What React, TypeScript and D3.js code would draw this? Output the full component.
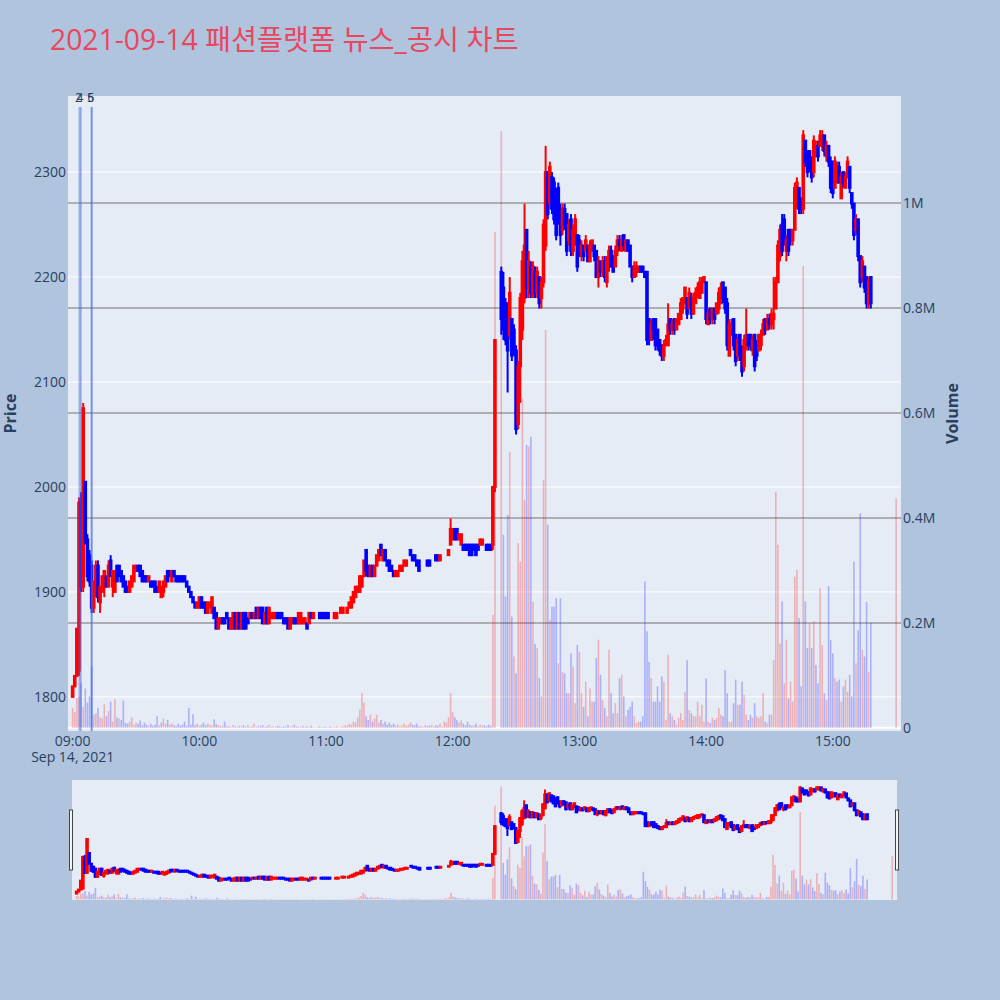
import React from "react";
import * as d3 from "d3";

const TITLE = "2021-09-14 패션플랫폼 뉴스_공시 차트";
const DATE_LABEL = "Sep 14, 2021";

// traded minutes after 09:00 (VI halt at 12:21-12:22, closing auction at 15:30)
const tradedMinuteRanges: [number, number][] = [[0, 200], [203, 378], [390, 390]];

const opens = [
  1800,1810,1820,1825,1985,1905,2005,1950,1935,1925,
  1885,1900,1925,1890,1900,1905,1915,1905,1930,1905,
  1900,1925,1925,1920,1915,1910,1905,1900,1905,1910,
  1920,1925,1925,1920,1915,1915,1910,1910,1910,1910,
  1905,1900,1895,1900,1905,1920,1920,1910,1920,1915,
  1915,1915,1915,1915,1910,1905,1900,1895,1890,1885,
  1885,1895,1890,1890,1880,1885,1880,1885,1880,1865,
  1870,1875,1875,1880,1875,1865,1865,1880,1865,1880,
  1865,1880,1880,1875,1875,1880,1875,1885,1875,1885,
  1885,1870,1885,1870,1875,1875,1875,1880,1880,1880,
  1875,1875,1875,1865,1870,1875,1875,1870,1870,1870,
  1870,1870,1870,1880,1875,1880,1880,1880,1880,1880,
  1880,1880,1875,1875,1875,1875,1880,1880,1880,1885,
  1880,1885,1885,1890,1895,1900,1900,1905,1915,1940,
  1925,1915,1925,1915,1925,1930,1945,1930,1940,1930,
  1930,1925,1920,1915,1915,1920,1920,1925,1925,1930,
  1940,1935,1935,1930,1930,1930,1930,1930,1930,1930,
  1930,1930,1935,1935,1930,1935,1935,1935,1935,1945,
  1950,1960,1960,1950,1945,1945,1945,1945,1945,1945,
  1945,1945,1945,1945,1945,1945,1945,1945,1945,1945,
  2000,
  2205,2190,2175,2175,2145,2160,2150,2130,2060,2115,
  2150,2180,2245,2190,2210,2185,2205,2185,2200,2180,
  2195,2230,2300,2270,2295,2290,2280,2285,2260,2245,
  2265,2260,2235,2255,2225,2240,2240,2235,2220,2230,
  2225,2230,2215,2225,2230,2225,2200,2215,2205,2215,
  2195,2210,2225,2220,2210,2225,2235,2225,2240,2225,
  2235,2230,2210,2200,2205,2205,2210,2210,2205,2205,
  2160,2140,2160,2160,2150,2140,2135,2125,2135,2135,
  2160,2150,2160,2150,2155,2160,2170,2175,2180,2170,
  2180,2165,2175,2185,2180,2185,2195,2195,2155,2170,
  2160,2170,2165,2170,2175,2195,2190,2175,2125,2145,
  2160,2145,2125,2145,2130,2115,2135,2145,2145,2130,
  2145,2135,2130,2135,2145,2160,2150,2160,2155,2160,
  2170,2195,2220,2250,2255,2225,2245,2245,2235,2245,
  2270,2285,2275,2265,2330,2320,2320,2310,2300,2315,
  2325,2325,2325,2335,2315,2325,2310,2310,2285,2290,
  2305,2275,2300,2285,2295,2305,2280,2270,2245,2255,
  2220,2200,2210,2200,2175,2200,
  2200,
];

const highs = [
  1810,1820,1865,1990,1995,2080,2005,1955,1940,1930,
  1910,1930,1930,1905,1915,1920,1915,1930,1935,1920,
  1920,1925,1925,1920,1915,1910,1905,1910,1915,1925,
  1925,1925,1925,1920,1915,1915,1915,1910,1910,1910,
  1905,1910,1905,1910,1915,1920,1920,1920,1920,1915,
  1915,1915,1915,1915,1910,1905,1900,1895,1890,1890,
  1895,1895,1890,1890,1890,1890,1895,1885,1880,1875,
  1875,1875,1875,1880,1875,1875,1880,1880,1880,1880,
  1880,1880,1880,1875,1880,1880,1880,1885,1885,1885,
  1885,1880,1885,1885,1880,1880,1880,1880,1880,1880,
  1875,1875,1875,1875,1875,1875,1875,1880,1880,1875,
  1875,1870,1880,1880,1880,1880,1880,1880,1880,1880,
  1880,1880,1875,1875,1880,1880,1880,1885,1885,1885,
  1885,1890,1895,1900,1905,1905,1915,1915,1930,1940,
  1925,1925,1925,1925,1935,1940,1945,1940,1940,1930,
  1930,1925,1920,1920,1920,1925,1925,1930,1930,1930,
  1940,1935,1935,1930,1930,1930,1930,1930,1930,1930,
  1930,1930,1935,1935,1935,1935,1935,1935,1940,1970,
  1960,1960,1960,1955,1955,1945,1945,1945,1945,1945,
  1945,1945,1945,1950,1950,1945,1945,1945,1945,2000,
  2140,
  2210,2205,2180,2175,2200,2160,2155,2135,2120,2185,
  2225,2270,2245,2225,2215,2215,2210,2210,2200,2200,
  2255,2325,2300,2310,2300,2295,2285,2290,2270,2270,
  2270,2260,2255,2260,2250,2260,2240,2240,2235,2230,
  2240,2230,2235,2235,2230,2225,2220,2215,2220,2220,
  2220,2230,2230,2220,2230,2240,2240,2240,2240,2235,
  2235,2230,2210,2215,2215,2210,2210,2210,2205,2205,
  2160,2160,2160,2160,2150,2140,2135,2140,2145,2175,
  2160,2160,2160,2160,2165,2180,2180,2190,2180,2190,
  2185,2185,2190,2195,2200,2200,2200,2195,2170,2170,
  2170,2170,2175,2190,2195,2195,2190,2180,2160,2160,
  2160,2145,2145,2145,2135,2145,2170,2145,2145,2145,
  2145,2140,2145,2150,2160,2160,2165,2165,2170,2200,
  2200,2235,2250,2260,2260,2240,2245,2245,2245,2290,
  2295,2285,2275,2340,2330,2320,2320,2315,2335,2330,
  2330,2340,2340,2335,2330,2325,2315,2310,2315,2310,
  2310,2300,2300,2300,2315,2305,2280,2270,2260,2255,
  2220,2220,2210,2200,2200,2200,
  2200,
];

const lows = [
  1800,1810,1820,1820,1900,1900,1945,1910,1905,1880,
  1880,1895,1890,1880,1900,1895,1905,1905,1915,1895,
  1900,1910,1915,1910,1905,1900,1900,1900,1905,1910,
  1920,1920,1915,1910,1910,1910,1910,1905,1905,1900,
  1900,1900,1895,1895,1905,1910,1915,1910,1915,1910,
  1910,1910,1910,1910,1905,1900,1895,1890,1885,1885,
  1885,1885,1885,1880,1880,1885,1880,1875,1865,1865,
  1870,1870,1870,1875,1865,1865,1865,1865,1865,1865,
  1865,1865,1865,1870,1875,1875,1875,1875,1875,1875,
  1870,1870,1870,1870,1875,1875,1875,1875,1875,1875,
  1870,1870,1865,1865,1870,1870,1870,1870,1870,1870,
  1870,1865,1870,1875,1875,1880,1880,1875,1875,1875,
  1875,1875,1875,1875,1875,1875,1880,1880,1880,1885,
  1880,1885,1885,1890,1895,1900,1900,1905,1915,1915,
  1915,1915,1915,1915,1925,1930,1935,1930,1930,1925,
  1920,1920,1915,1915,1915,1920,1920,1925,1925,1930,
  1935,1930,1930,1925,1920,1930,1930,1930,1925,1925,
  1930,1930,1930,1930,1930,1935,1935,1935,1935,1945,
  1950,1950,1950,1950,1945,1940,1940,1940,1935,1935,
  1940,1935,1940,1945,1945,1945,1940,1940,1940,1940,
  1995,
  2145,2140,2135,2090,2140,2120,2125,2050,2055,2080,
  2140,2175,2180,2180,2180,2180,2180,2180,2170,2170,
  2190,2225,2255,2265,2260,2250,2235,2250,2230,2240,
  2245,2220,2230,2220,2220,2230,2205,2220,2215,2215,
  2225,2215,2215,2225,2215,2200,2190,2200,2200,2195,
  2190,2205,2210,2205,2210,2220,2225,2225,2225,2225,
  2225,2210,2195,2200,2200,2205,2205,2205,2200,2135,
  2135,2140,2140,2130,2130,2125,2120,2120,2135,2135,
  2145,2145,2145,2150,2155,2160,2165,2175,2160,2170,
  2160,2165,2175,2180,2180,2185,2195,2155,2155,2155,
  2155,2155,2165,2165,2175,2175,2165,2130,2125,2145,
  2130,2115,2120,2120,2105,2110,2130,2130,2130,2125,
  2110,2120,2130,2130,2145,2145,2150,2150,2150,2150,
  2170,2195,2215,2220,2230,2215,2220,2230,2230,2245,
  2265,2260,2260,2260,2305,2295,2300,2290,2295,2315,
  2310,2325,2320,2315,2310,2305,2280,2275,2285,2290,
  2290,2275,2285,2285,2295,2280,2265,2235,2240,2215,
  2190,2195,2185,2170,2170,2170,
  2200,
];

const closes = [
  1810,1820,1865,1985,1905,2075,1950,1915,1910,1885,
  1910,1925,1895,1905,1915,1920,1905,1925,1915,1920,
  1920,1910,1915,1910,1905,1900,1900,1910,1915,1925,
  1925,1920,1915,1910,1910,1910,1915,1905,1905,1900,
  1900,1910,1905,1910,1915,1910,1915,1920,1915,1910,
  1910,1910,1910,1910,1905,1900,1895,1890,1885,1890,
  1895,1885,1885,1880,1890,1890,1895,1875,1865,1875,
  1875,1870,1870,1875,1865,1875,1880,1865,1880,1865,
  1880,1865,1865,1870,1880,1875,1880,1875,1885,1875,
  1870,1880,1870,1885,1880,1880,1880,1875,1875,1875,
  1870,1870,1865,1875,1875,1870,1870,1880,1880,1875,
  1875,1865,1880,1875,1880,1880,1880,1875,1875,1875,
  1875,1875,1875,1875,1880,1880,1880,1885,1885,1885,
  1885,1890,1895,1900,1905,1905,1915,1915,1930,1920,
  1915,1925,1915,1925,1935,1940,1935,1940,1930,1925,
  1920,1920,1915,1920,1920,1925,1925,1930,1930,1930,
  1935,1930,1930,1925,1920,1930,1930,1930,1925,1925,
  1930,1930,1930,1930,1935,1935,1935,1935,1940,1960,
  1960,1950,1950,1955,1955,1940,1940,1940,1935,1935,
  1940,1935,1940,1950,1950,1945,1940,1940,1940,2000,
  2140,
  2160,2150,2140,2130,2185,2125,2130,2055,2115,2180,
  2215,2230,2190,2215,2185,2210,2185,2205,2175,2195,
  2250,2300,2260,2305,2265,2255,2240,2255,2240,2265,
  2250,2225,2250,2225,2245,2255,2210,2220,2230,2220,
  2235,2215,2230,2235,2220,2200,2215,2205,2215,2200,
  2215,2225,2210,2205,2225,2235,2230,2235,2230,2235,
  2225,2210,2200,2210,2210,2210,2205,2205,2200,2140,
  2140,2155,2150,2135,2135,2130,2125,2135,2140,2155,
  2150,2155,2150,2160,2165,2175,2180,2190,2165,2185,
  2165,2180,2185,2190,2195,2195,2200,2160,2165,2160,
  2170,2160,2175,2185,2190,2180,2170,2135,2155,2155,
  2135,2120,2140,2125,2110,2140,2145,2135,2135,2140,
  2115,2125,2145,2145,2155,2150,2160,2155,2165,2165,
  2195,2230,2245,2225,2235,2235,2225,2235,2245,2285,
  2290,2265,2265,2335,2310,2300,2305,2295,2330,2325,
  2315,2335,2335,2320,2325,2310,2285,2280,2310,2305,
  2290,2295,2290,2295,2310,2285,2270,2240,2255,2220,
  2195,2215,2190,2175,2195,2175,
  2200,
];

// traded volume per minute, in thousands of shares
const volumesK = [
  38,30,57,60,85,40,75,48,60,117,
  25,28,38,20,18,45,22,32,50,12,
  55,20,18,15,52,10,8,12,20,6,
  10,8,14,5,10,6,4,8,4,6,
  22,5,10,18,8,15,6,8,5,3,
  8,4,6,12,4,38,6,26,5,8,
  4,6,10,5,8,6,4,16,7,5,
  4,3,12,4,3,2,6,3,2,4,
  3,5,2,6,2,3,8,2,4,3,
  5,2,3,6,2,3,2,4,3,2,
  3,2,5,2,3,6,2,3,2,4,
  2,3,2,4,2,1,2,3,1,2,
  2,1,3,1,2,4,1,2,3,5,
  4,8,6,12,10,20,35,66,48,22,
  15,25,12,18,25,10,15,8,12,6,
  10,5,8,4,6,3,5,8,4,6,
  10,6,5,8,3,4,2,5,3,4,
  6,3,5,4,8,3,12,10,20,66,
  30,20,15,10,14,8,5,12,6,4,
  5,8,3,6,4,5,3,6,4,215,
  945,
  1137,368,250,406,526,212,136,104,352,317,
  628,434,539,536,555,240,160,152,95,60,
  472,758,387,205,231,231,247,123,247,107,
  104,66,66,142,117,47,158,145,66,40,
  88,22,75,50,50,133,168,101,53,38,
  22,149,66,28,47,28,94,101,60,22,
  34,40,50,22,9,12,12,22,279,184,
  126,95,50,50,79,50,98,88,15,139,
  28,22,15,6,19,28,15,69,129,34,
  28,22,22,50,22,44,12,94,12,9,
  19,15,19,38,25,22,110,66,12,12,
  47,92,44,44,88,63,25,15,25,19,
  47,22,19,22,66,12,9,25,25,129,
  450,349,161,241,85,168,56,88,50,288,
  301,209,79,880,241,152,199,152,203,120,
  85,266,158,66,53,270,167,142,95,88,
  92,50,79,92,69,101,60,317,123,186,
  409,149,136,240,107,200,
  437,
];

// news / disclosure markers (minutes after 09:00)
const newsLabels = ["2", "4", "5", "6"];
const newsMinutes = [3.2, 3.9, 8.9, 9.1];
const newsLineTopPrice = 2362;

const priceTicks = [1800, 1900, 2000, 2100, 2200, 2300];
const volumeTicksK = [0, 200, 400, 600, 800, 1000];
const volumeTickLabels = ["0", "0.2M", "0.4M", "0.6M", "0.8M", "1M"];
const priceRange = [1767.5, 2372.5];
const volumeRangeK = [-6, 1204];
const timeRangeMinutes = [-2.2, 392.3];

const INC = "#ff0000";
const DEC = "#0000ff";
const INC_VOL = "rgba(255,0,0,0.25)";
const DEC_VOL = "rgba(0,0,255,0.25)";
const FONT = "'Open Sans', verdana, arial, sans-serif";
const AXIS_COLOR = "#2a3f5f";

type Candle = { t: Date; o: number; h: number; l: number; c: number; v: number; inc: boolean; volUp: boolean };

const base = new Date(2021, 8, 14, 9, 0, 0).getTime();
const toDate = (m: number) => new Date(base + m * 60000);

function buildCandles(): Candle[] {
  const minutes = tradedMinuteRanges.flatMap(([a, b]) => d3.range(a, b + 1));
  let inc = true;
  let prevC: number | null = null;
  return minutes.map((m, i) => {
    const o = opens[i], c = closes[i];
    if (c === o) {
      if (prevC !== null && c !== prevC) inc = c > prevC;
    } else inc = c > o;
    const volUp = prevC === null || c === prevC ? inc : c > prevC;
    prevC = c;
    return { t: toDate(m), o, h: highs[i], l: lows[i], c, v: volumesK[i], inc, volUp };
  });
}

function Series({ candles, x, y, yv, clip }: { candles: Candle[]; x: d3.ScaleTime<number, number>; y: d3.ScaleLinear<number, number>; yv: d3.ScaleLinear<number, number>; clip: string }) {
  const barW = 1.6;
  const bodyW = 1.6;
  return (
    <g clipPath={`url(#${clip})`}>
      {candles.map((d, i) => {
        const cx = x(d.t);
        const y0 = yv(0), y1 = yv(d.v);
        return <rect key={"v" + i} x={cx - barW / 2} y={y1} width={barW} height={Math.max(0, y0 - y1)} fill={d.volUp ? INC_VOL : DEC_VOL} />;
      })}
      {candles.map((d, i) => {
        const cx = x(d.t);
        const col = d.inc ? INC : DEC;
        const top = y(Math.max(d.o, d.c));
        const bot = y(Math.min(d.o, d.c));
        return (
          <g key={"c" + i}>
            <line x1={cx} x2={cx} y1={y(d.h)} y2={y(d.l)} stroke={col} strokeWidth={2} />
            <rect x={cx - bodyW / 2} y={top} width={bodyW} height={bot - top} fill={col} stroke={col} strokeWidth={2} />
          </g>
        );
      })}
    </g>
  );
}

export default function App() {
  const plot = { left: 68, right: 901, top: 96, bottom: 731 };
  const slider = { left: 72, right: 897, top: 780, bottom: 900 };
  const candles = buildCandles();

  const x = d3.scaleTime().domain([toDate(timeRangeMinutes[0]), toDate(timeRangeMinutes[1])]).range([plot.left, plot.right]);
  const y = d3.scaleLinear().domain(priceRange).range([plot.bottom, plot.top]);
  const yv = d3.scaleLinear().domain(volumeRangeK).range([plot.bottom, plot.top]);
  const xs = x.copy().range([slider.left, slider.right]);
  const ys = y.copy().range([slider.bottom, slider.top]);
  const yvs = yv.copy().range([slider.bottom, slider.top]);

  const timeTicks = x.ticks(d3.timeHour.every(1) as any);
  const fmt = d3.timeFormat("%H:%M");

  return (
    <svg width={1000} height={1000} style={{ position: "absolute", left: 0, top: 0 }} fontFamily={FONT}>
      <defs>
        <clipPath id="mainClip">
          <rect x={plot.left} y={plot.top} width={plot.right - plot.left} height={plot.bottom - plot.top} />
        </clipPath>
        <clipPath id="sliderClip">
          <rect x={slider.left} y={slider.top} width={slider.right - slider.left} height={slider.bottom - slider.top} />
        </clipPath>
      </defs>
      <rect x={0} y={0} width={1000} height={1000} fill="#b0c4de" />
      <text x={50} y={50} fontSize={28.3} fill="rgb(233,70,96)" fontFamily="'Open Sans', 'Noto Sans CJK KR', sans-serif">{TITLE}</text>

      <rect x={plot.left} y={plot.top} width={plot.right - plot.left} height={plot.bottom - plot.top} fill="#e5ecf6" />
      {priceTicks.map((p) => (
        <line key={"pg" + p} x1={plot.left} x2={plot.right} y1={y(p)} y2={y(p)} stroke="#ffffff" strokeWidth={1} />
      ))}
      {volumeTicksK.filter((v) => v > 0).map((v) => (
        <line key={"vg" + v} x1={plot.left} x2={plot.right} y1={yv(v)} y2={yv(v)} stroke="#9a9a9e" strokeWidth={1.5} />
      ))}
      <line x1={plot.left} x2={plot.right} y1={yv(0)} y2={yv(0)} stroke="#ffffff" strokeWidth={2} />

      <Series candles={candles} x={x} y={y} yv={yv} clip="mainClip" />

      {newsMinutes.map((m, i) => (
        <line key={"nl" + i} x1={x(toDate(m))} x2={x(toDate(m))} y1={y(newsLineTopPrice)} y2={plot.bottom} stroke="rgba(65,105,225,0.45)" strokeWidth={1.8} />
      ))}
      {newsMinutes.map((m, i) => (
        <text key={"nt" + i} x={x(toDate(m)) - 1} y={101.5} fontSize={12} fill={AXIS_COLOR} textAnchor="middle">{newsLabels[i]}</text>
      ))}

      {priceTicks.map((p) => (
        <text key={"pt" + p} x={plot.left - 2} y={y(p)} dy="0.35em" fontSize={14} fill={AXIS_COLOR} textAnchor="end">{p}</text>
      ))}
      {volumeTicksK.map((v, i) => (
        <text key={"vt" + v} x={plot.right + 2} y={yv(v)} dy="0.35em" fontSize={14} fill={AXIS_COLOR} textAnchor="start">{volumeTickLabels[i]}</text>
      ))}
      {timeTicks.map((t, i) => (
        <text key={"tt" + i} x={x(t)} y={746} fontSize={14} fill={AXIS_COLOR} textAnchor="middle">{fmt(t)}</text>
      ))}
      <text x={x(timeTicks[0])} y={762} fontSize={14} fill={AXIS_COLOR} textAnchor="middle">{DATE_LABEL}</text>

      <text transform={`translate(16,${(plot.top + plot.bottom) / 2}) rotate(-90)`} fontSize={16} fontWeight="bold" fill={AXIS_COLOR} textAnchor="middle">Price</text>
      <text transform={`translate(958,${(plot.top + plot.bottom) / 2}) rotate(-90)`} fontSize={16} fontWeight="bold" fill={AXIS_COLOR} textAnchor="middle">Volume</text>

      <rect x={slider.left} y={slider.top} width={slider.right - slider.left} height={slider.bottom - slider.top} fill="#e5ecf6" />
      <Series candles={candles} x={xs} y={ys} yv={yvs} clip="sliderClip" />
      <rect x={69.5} y={810} width={3} height={60} fill="#f4f4f4" stroke="#444" strokeWidth={1} />
      <rect x={895.5} y={810} width={3} height={60} fill="#f4f4f4" stroke="#444" strokeWidth={1} />
    </svg>
  );
}
